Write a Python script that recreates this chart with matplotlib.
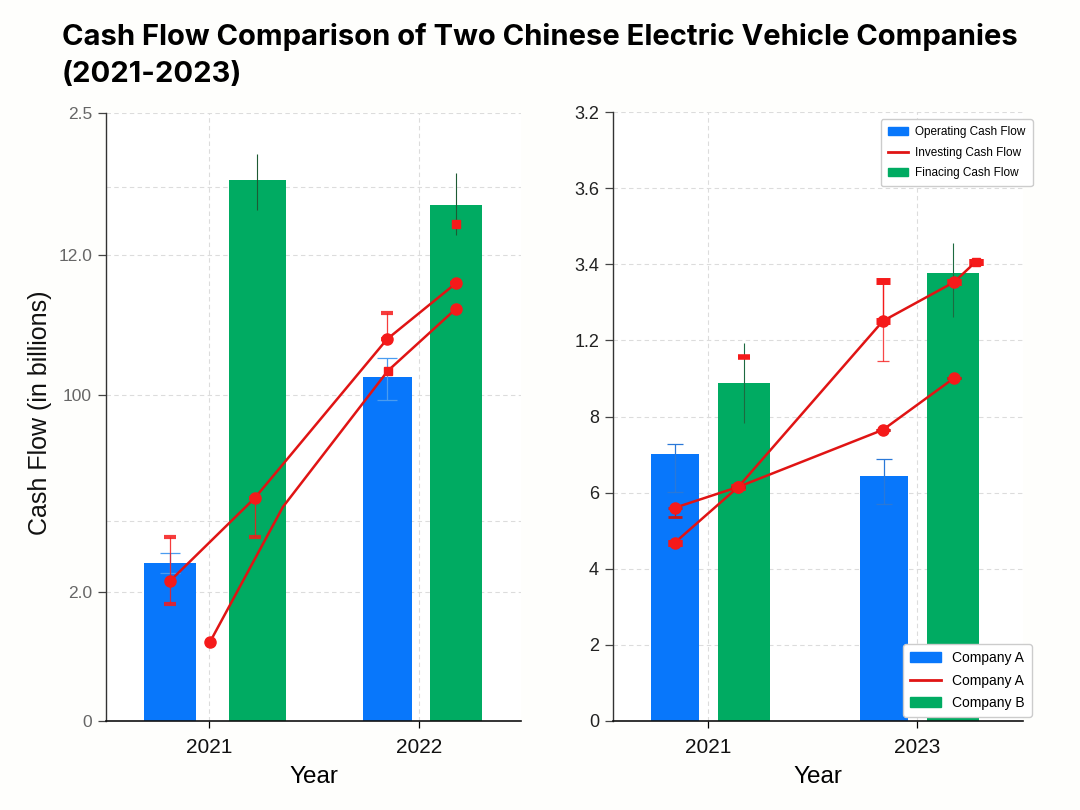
import matplotlib
matplotlib.use("Agg")
import matplotlib.pyplot as plt
from matplotlib.patches import Patch
from matplotlib.lines import Line2D
import numpy as np

# ---------------- data ----------------
# Left panel (axis units; tick labels as printed on the chart)
left_years = ["2021", "2022"]
left_ytick_pos = [0, 2.12, 5.36, 7.66, 10.0]
left_ytick_labels = ["0", "2.0", "100", "12.0", "2.5"]
left_minor_grid = [3.29, 8.78]
left_operating = [2.60, 5.66]
left_operating_err_lo = [0.16, 0.38]
left_operating_err_hi = [0.16, 0.31]
left_financing = [8.90, 8.49]
left_financing_err_lo = [0.50, 0.50]
left_financing_err_hi = [0.43, 0.52]
left_lineA_x = [-0.186, 0.219, 0.848, 1.176]
left_lineA_y = [2.30, 3.67, 6.28, 7.20]
left_lineA_err_lo = [0.38, 0.64, 0.0, 0.0]
left_lineA_err_hi = [0.73, 0.0, 0.43, 0.0]
left_lineB_x = [0.005, 0.352, 0.852, 1.176]
left_lineB_y = [1.30, 3.52, 5.76, 6.78]
left_extra_sq_x = [1.176]
left_extra_sq_y = [8.17]

# Right panel
right_years = ["2021", "2023"]
right_ytick_pos = [0, 2, 4, 6, 8, 10, 12, 14, 16]
right_ytick_labels = ["0", "2", "4", "6", "8", "1.2", "3.4", "3.6", "3.2"]
right_operating = [7.02, 6.44]
right_operating_err_lo = [1.00, 0.74]
right_operating_err_hi = [0.26, 0.44]
right_financing = [8.88, 11.77]
right_financing_err_lo = [1.05, 1.16]
right_financing_err_hi = [1.05, 0.79]
right_lineA_x = [-0.16, 0.145, 0.837, 1.177, 1.28]
right_lineA_y = [4.68, 6.15, 10.51, 11.53, 12.06]
right_lineA_err = [0.0, 0.0, 1.05, 0.0, 0.0]
right_lineB_x = [-0.16, 0.145, 0.837, 1.177]
right_lineB_y = [5.60, 6.15, 7.65, 9.01]
right_lineB_err_lo = [0.24, 0.0, 0.0, 0.0]
right_extra_sq_x = [0.172]
right_extra_sq_y = [9.56]

legend1_labels = ["Operating Cash Flow", "Investing Cash Flow", "Finacing Cash Flow"]
legend2_labels = ["Company A", "Company A", "Company B"]
title = "Cash Flow Comparison of Two Chinese Electric Vehicle Companies\n(2021-2023)"

# ---------------- layout / style ----------------
BLUE = "#0877fb"
GREEN = "#00ab62"
RED = "#e01414"
MRED = "#f51a1a"
left_blue_off = [-0.186, -0.15]
left_green_off = [0.231, 0.176]
left_blue_w = [0.248, 0.233]
left_green_w = [0.271, 0.248]

plt.rcParams["font.family"] = ["Liberation Sans", "DejaVu Sans"]

fig = plt.figure(figsize=(10.8, 8.1), dpi=100)
fig.patch.set_facecolor("#fefefc")

axL = fig.add_axes([0.0981, 0.1099, 0.3843, 0.7506])
axR = fig.add_axes([0.5676, 0.1099, 0.3796, 0.7518])


def style_axes(ax, labelcolor, labelsize):
    ax.set_facecolor("white")
    for s in ["top", "right"]:
        ax.spines[s].set_visible(False)
    ax.spines["left"].set_color("#333333")
    ax.spines["bottom"].set_color("#111111")
    ax.spines["left"].set_linewidth(1.0)
    ax.spines["bottom"].set_linewidth(1.2)
    ax.tick_params(axis="y", which="major", length=6, width=0.9, colors="#444444",
                   labelcolor=labelcolor, labelsize=labelsize, pad=4)
    ax.tick_params(axis="x", which="major", length=5, width=0.9, labelsize=15,
                   labelcolor="#111111", pad=7)
    ax.tick_params(axis="y", which="minor", length=0)
    ax.grid(True, which="both", linestyle=(0, (4, 3)), color="#dcdcdc", linewidth=0.8)
    ax.set_axisbelow(True)


# ---------- left panel ----------
xL = np.arange(len(left_years))
axL.bar(xL + np.array(left_blue_off), left_operating, left_blue_w, color=BLUE, zorder=2)
axL.bar(xL + np.array(left_green_off), left_financing, left_green_w, color=GREEN, zorder=2)
axL.errorbar(xL + np.array(left_blue_off), left_operating,
             yerr=[left_operating_err_lo, left_operating_err_hi],
             fmt="none", ecolor="#4a9cf0", elinewidth=0.9, capsize=7, capthick=0.9, zorder=3)
axL.errorbar(xL + np.array(left_green_off), left_financing,
             yerr=[left_financing_err_lo, left_financing_err_hi],
             fmt="none", ecolor="#1d5a33", elinewidth=0.8, capsize=0, zorder=3)
axL.errorbar(left_lineA_x, left_lineA_y, yerr=[left_lineA_err_lo, left_lineA_err_hi],
             fmt="none", ecolor=MRED, elinewidth=0.9, capsize=4, capthick=3, alpha=0.85, zorder=4)
axL.plot(left_lineA_x, left_lineA_y, color=RED, lw=1.8, marker="o", ms=8,
         mfc=MRED, mec=MRED, zorder=5)
axL.plot(left_lineB_x, left_lineB_y, color=RED, lw=1.8, zorder=5)
axL.plot([left_lineB_x[0], left_lineB_x[3]], [left_lineB_y[0], left_lineB_y[3]], ls="none",
         marker="o", ms=8, mfc=MRED, mec=MRED, zorder=6)
axL.plot([left_lineB_x[2]], [left_lineB_y[2]], ls="none", marker="s", ms=6,
         mfc=MRED, mec=MRED, zorder=6)
axL.plot(left_extra_sq_x, left_extra_sq_y, ls="none", marker="s", ms=5.5,
         mfc=MRED, mec=MRED, zorder=6)

axL.set_xlim(-0.4905, 1.4857)
axL.set_ylim(0, 10)
axL.set_xticks(xL)
axL.set_xticklabels(left_years)
axL.set_yticks(left_ytick_pos)
axL.set_yticklabels(left_ytick_labels)
axL.set_yticks(left_minor_grid, minor=True)
style_axes(axL, "#666666", 12.5)
axL.set_xlabel("Year", fontsize=17.5, labelpad=7)

# ---------- right panel ----------
xR = np.arange(len(right_years))
axR.bar(xR - 0.16, right_operating, 0.23, color=BLUE, zorder=2)
axR.bar(xR + 0.172, right_financing, 0.25, color=GREEN, zorder=2)
axR.errorbar(xR - 0.16, right_operating, yerr=[right_operating_err_lo, right_operating_err_hi],
             fmt="none", ecolor="#2a78d8", elinewidth=0.9, capsize=6, capthick=0.9, zorder=3)
axR.errorbar(xR + 0.172, right_financing, yerr=[right_financing_err_lo, right_financing_err_hi],
             fmt="none", ecolor="#1d6a40", elinewidth=0.8, capsize=0, zorder=3)
axR.errorbar(right_lineA_x, right_lineA_y, yerr=[right_lineA_err, right_lineA_err], fmt="none",
             ecolor=MRED, elinewidth=0.9, capsize=4, capthick=0.9, alpha=0.8, zorder=4)
axR.errorbar(right_lineA_x, right_lineA_y, yerr=[[0] * len(right_lineA_err), right_lineA_err],
             fmt="none", ecolor=MRED, elinewidth=0.9, capsize=5, capthick=5, zorder=4)
axR.errorbar(right_lineB_x, right_lineB_y, yerr=[right_lineB_err_lo, [0] * len(right_lineB_err_lo)],
             fmt="none", ecolor="#c81818", elinewidth=0.9, capsize=5, capthick=2, zorder=4)
axR.plot(right_lineA_x, right_lineA_y, color=RED, lw=1.8, zorder=5)
axR.plot(right_lineA_x[:4], right_lineA_y[:4], ls="none", marker="o", ms=8,
         mfc=MRED, mec=MRED, zorder=6)
axR.plot(right_lineA_x[4:], right_lineA_y[4:], ls="none", marker="s", ms=6,
         mfc=MRED, mec=MRED, zorder=6)
axR.plot(right_lineB_x, right_lineB_y, color=RED, lw=1.8, marker="o", ms=8,
         mfc=MRED, mec=MRED, zorder=5)
axR.plot(right_extra_sq_x, right_extra_sq_y, ls="none", marker="_", ms=9, mew=4,
         color=MRED, zorder=6)

axR.set_xlim(-0.4545, 1.507)
axR.set_ylim(0, 16)
axR.set_xticks(xR)
axR.set_xticklabels(right_years)
axR.set_yticks(right_ytick_pos)
axR.set_yticklabels(right_ytick_labels)
style_axes(axR, "#222222", 13)
axR.set_xlabel("Year", fontsize=17.5, labelpad=7)

h1 = [Patch(color=BLUE), Line2D([0], [0], color=RED, lw=2), Patch(color=GREEN)]
leg1 = axR.legend(h1, legend1_labels, loc="upper right", bbox_to_anchor=(1.038, 0.998),
                  fontsize=8.5, frameon=True, framealpha=1, edgecolor="#cccccc",
                  handlelength=1.7, handletextpad=0.6, borderpad=0.6, labelspacing=0.72,
                  fancybox=True)
axR.add_artist(leg1)
h2 = [Patch(color=BLUE), Line2D([0], [0], color=RED, lw=2), Patch(color=GREEN)]
axR.legend(h2, legend2_labels, loc="lower right", bbox_to_anchor=(1.038, -0.005),
           fontsize=10, frameon=True, framealpha=1, edgecolor="#cccccc",
           handlelength=2.2, borderpad=0.5, labelspacing=0.62, fancybox=True)

fig.text(0.037, 0.491, "Cash Flow (in billions)", rotation=90, ha="center", va="center",
         fontsize=18, color="#111111")
fig.text(0.0574, 0.972, title, ha="left", va="top", fontsize=21, fontweight="bold",
         family=["Inter", "DejaVu Sans"], linespacing=1.47, color="#000000")

fig.savefig("out.png", dpi=100, facecolor=fig.get_facecolor())
